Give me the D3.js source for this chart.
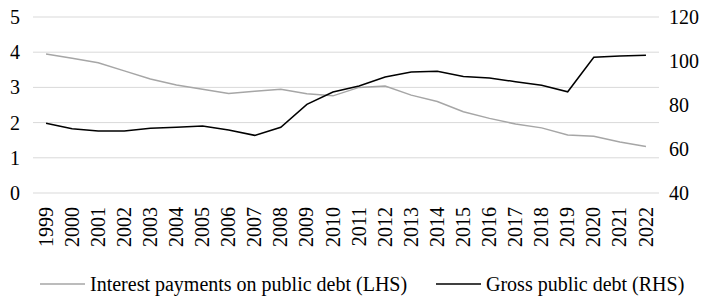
<!DOCTYPE html>
<html>
<head>
<meta charset="utf-8">
<script src="https://cdn.jsdelivr.net/npm/d3@7"></script>
<style>
  body { margin: 0; background: #fff; }
  svg text { font-family: "Liberation Serif", "DejaVu Serif", serif; fill: #000; }
</style>
</head>
<body>
<svg id="chart" width="704" height="298"></svg>
<script>
// data
var years = ["1999","2000","2001","2002","2003","2004","2005","2006","2007","2008","2009","2010",
             "2011","2012","2013","2014","2015","2016","2017","2018","2019","2020","2021","2022"]
var interest = [3.95, 3.83, 3.70, 3.47, 3.24, 3.07, 2.95, 2.83, 2.89, 2.95, 2.82, 2.76,
                3.00, 3.04, 2.78, 2.60, 2.31, 2.12, 1.96, 1.85, 1.65, 1.61, 1.45, 1.32]
var grossDebt = [71.7, 69.2, 68.2, 68.2, 69.4, 69.9, 70.5, 68.6, 66.2, 69.9, 80.3, 85.9,
                 88.6, 92.7, 95.0, 95.3, 93.0, 92.3, 90.6, 89.0, 86.0, 101.7, 102.3, 102.6]
var leftTicks = [0, 1, 2, 3, 4, 5]
var rightTicks = [40, 60, 80, 100, 120]
var legendLabels = ["Interest payments on public debt (LHS)", "Gross public debt (RHS)"]

var svg = d3.select("#chart")
var plotLeft = 33, plotRight = 659, plotTop = 17, plotBottom = 193

var x = d3.scaleBand().domain(years).range([plotLeft, plotRight])
var yL = d3.scaleLinear().domain([0, 5]).range([plotBottom, plotTop])
var yR = d3.scaleLinear().domain([40, 120]).range([plotBottom, plotTop])

// gridlines
svg.append("g").selectAll("line")
   .data(leftTicks)
   .enter()
   .append("line")
   .attr("x1", plotLeft).attr("x2", plotRight)
   .attr("y1", function(d) { return yL(d) })
   .attr("y2", function(d) { return yL(d) })
   .attr("stroke", "#d9d9d9")
   .attr("stroke-width", 1)

// left axis
var axL = svg.append("g").attr("transform", "translate(" + plotLeft + ",0)")
   .call(d3.axisLeft(yL).tickValues(leftTicks).tickFormat(d3.format("d")).tickSize(0).tickPadding(13))
axL.select(".domain").remove()
axL.selectAll("text").style("font-size", "20px")

// right axis
var axR = svg.append("g").attr("transform", "translate(" + plotRight + ",0)")
   .call(d3.axisRight(yR).tickValues(rightTicks).tickFormat(d3.format("d")).tickSize(0).tickPadding(10))
axR.select(".domain").remove()
axR.selectAll("text").style("font-size", "20px")

// x axis, rotated labels
var axX = svg.append("g").attr("transform", "translate(0," + plotBottom + ")")
   .call(d3.axisBottom(x).tickSize(0).tickPadding(0))
axX.select(".domain").remove()
axX.selectAll("text")
   .style("font-size", "20px")
   .attr("text-anchor", "end")
   .attr("dy", "0.33em")
   .attr("transform", "translate(0,14) rotate(-90)")
   .attr("y", 0)
   .attr("x", 0)

var cx = function(d, i) { return x(years[i]) + x.bandwidth() / 2 }

svg.append("path")
   .datum(interest)
   .attr("fill", "none")
   .attr("stroke", "#a6a6a6")
   .attr("stroke-width", 1.5)
   .attr("d", d3.line().x(cx).y(function(d) { return yL(d) }))

svg.append("path")
   .datum(grossDebt)
   .attr("fill", "none")
   .attr("stroke", "#000")
   .attr("stroke-width", 1.5)
   .attr("d", d3.line().x(cx).y(function(d) { return yR(d) }))

// legend
var legY = 284
var leg = svg.append("g")
var items = [{label: legendLabels[0], color: "#a6a6a6", x: 40},
             {label: legendLabels[1], color: "#000", x: 436}]
items.forEach(function(it) {
  leg.append("line")
     .attr("x1", it.x).attr("x2", it.x + 45)
     .attr("y1", legY).attr("y2", legY)
     .attr("stroke", it.color).attr("stroke-width", 1.5)
  leg.append("text")
     .attr("x", it.x + 50).attr("y", legY)
     .attr("dy", "0.33em")
     .style("font-size", "20px")
     .text(it.label)
})
</script>
</body>
</html>
